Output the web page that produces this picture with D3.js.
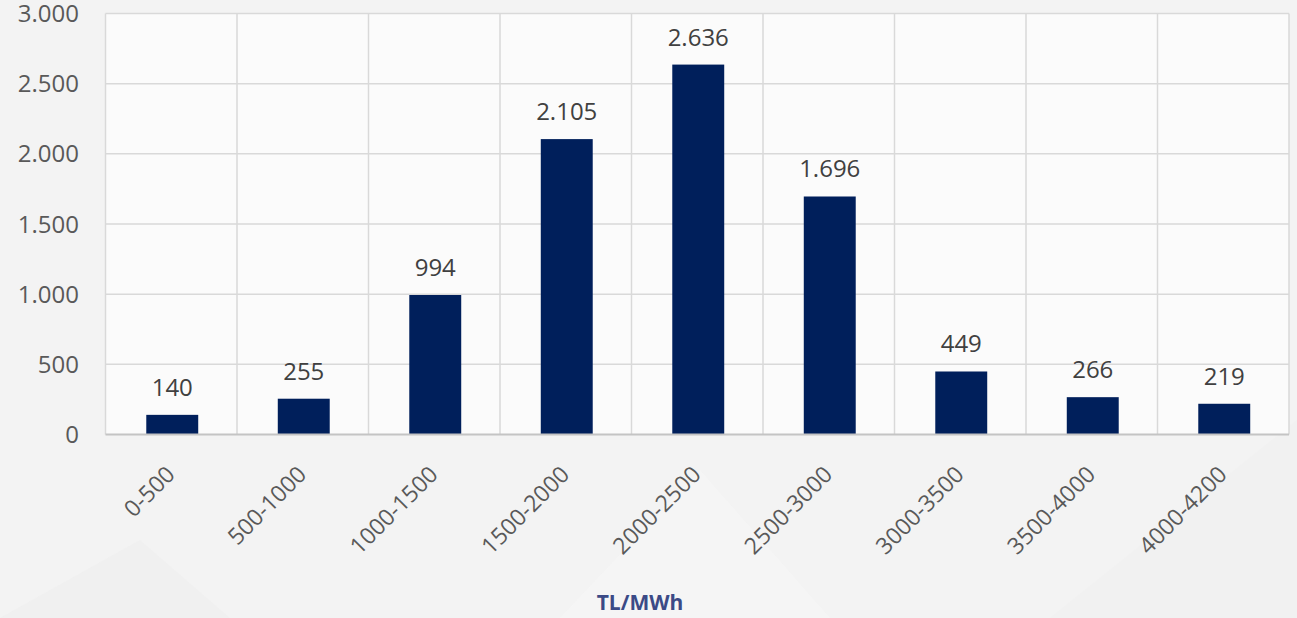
<!DOCTYPE html>
<html>
<head>
<meta charset="utf-8">
<script src="https://cdn.jsdelivr.net/npm/d3@7"></script>
<style>
  html, body { margin: 0; padding: 0; background: #f3f3f3; }
  svg { display: block; }
</style>
</head>
<body>
<svg id="chart" width="1297" height="618"></svg>
<script>
// data
let categories = ["0-500", "500-1000", "1000-1500", "1500-2000", "2000-2500",
                  "2500-3000", "3000-3500", "3500-4000", "4000-4200"];
let values = [140, 255, 994, 2105, 2636, 1696, 449, 266, 219];
let yTicks = [0, 500, 1000, 1500, 2000, 2500, 3000];
let xTitle = "TL/MWh";

let width = 1297, height = 618;
let plotLeft = 105.5, plotRight = 1289, plotTop = 13.5, plotBottom = 434.5;

let bar_color = "#001f5b";
let grid_color = "#d9d9d9";
let text_color = "#595959";

let svg = d3.select("#chart");
let fmt = d3.formatLocale({decimal: ",", thousands: ".", grouping: [3], currency: ["", ""]}).format(",d");

let x = d3.scaleBand().domain(categories).range([plotLeft, plotRight]).paddingInner(0).paddingOuter(0);
let y = d3.scaleLinear().domain([0, 3000]).range([plotBottom, plotTop]);

// faint background shapes
let bg = svg.append("g");
bg.append("rect").attr("width", width).attr("height", height).attr("fill", "#f3f3f3");
bg.append("polygon").attr("points", "0,618 230,618 140,540").attr("fill", "#eeeeee").attr("opacity", 0.5);
bg.append("polygon").attr("points", "560,618 830,618 700,470").attr("fill", "#f7f7f7").attr("opacity", 0.6);
bg.append("polygon").attr("points", "1050,618 1297,618 1297,420").attr("fill", "#efefef").attr("opacity", 0.5);

// plot area
svg.append("rect")
    .attr("x", plotLeft).attr("y", plotTop)
    .attr("width", plotRight - plotLeft).attr("height", plotBottom - plotTop)
    .attr("fill", "#fbfbfb");

// horizontal gridlines
svg.append("g")
    .selectAll("line")
    .data(yTicks.filter(d => d > 0))
    .join("line")
    .attr("x1", plotLeft).attr("x2", plotRight)
    .attr("y1", d => y(d)).attr("y2", d => y(d))
    .attr("stroke", grid_color)
    .attr("stroke-width", 1.5);

// vertical gridlines at category boundaries
let bounds = categories.map(c => x(c)).concat([plotRight]);
svg.append("g")
    .selectAll("line")
    .data(bounds)
    .join("line")
    .attr("x1", d => d).attr("x2", d => d)
    .attr("y1", plotTop).attr("y2", plotBottom)
    .attr("stroke", grid_color)
    .attr("stroke-width", 1.5);

// bars
let barW = x.bandwidth() * 0.395;
svg.append("g")
    .selectAll("rect")
    .data(values)
    .join("rect")
    .attr("x", (d, i) => x(categories[i]) + x.bandwidth() / 2 - barW / 2 + 1)
    .attr("y", d => y(d))
    .attr("width", barW)
    .attr("height", d => plotBottom - y(d))
    .attr("fill", bar_color);

// x axis baseline
svg.append("line")
    .attr("x1", plotLeft).attr("x2", plotRight)
    .attr("y1", plotBottom).attr("y2", plotBottom)
    .attr("stroke", "#c4c4c4")
    .attr("stroke-width", 2);

// value labels
svg.append("g")
    .selectAll("text")
    .data(values)
    .join("text")
    .attr("x", (d, i) => x(categories[i]) + x.bandwidth() / 2 + 1)
    .attr("y", d => y(d) - 19)
    .attr("text-anchor", "middle")
    .attr("font-family", "Open Sans, sans-serif")
    .attr("font-size", 24)
    .attr("fill", "#404040")
    .text(d => fmt(d));

// y axis labels
svg.append("g")
    .selectAll("text")
    .data(yTicks)
    .join("text")
    .attr("x", 79)
    .attr("y", d => y(d) + 8.5)
    .attr("text-anchor", "end")
    .attr("font-family", "Open Sans, sans-serif")
    .attr("font-size", 24)
    .attr("fill", text_color)
    .text(d => fmt(d));

// x axis labels, rotated
svg.append("g")
    .selectAll("text")
    .data(categories)
    .join("text")
    .attr("transform", d => "translate(" + (x(d) + x.bandwidth() / 2 + 5) + "," + 476 + ") rotate(-45)")
    .attr("text-anchor", "end")
    .attr("font-family", "Open Sans, sans-serif")
    .attr("font-size", 23)
    .attr("fill", text_color)
    .text(d => d);

// axis title
svg.append("text")
    .attr("x", 640)
    .attr("y", 610)
    .attr("text-anchor", "middle")
    .attr("font-family", "Open Sans, sans-serif")
    .attr("font-weight", "bold")
    .attr("font-size", 21)
    .attr("fill", "#3b4a86")
    .text(xTitle);
</script>
</body>
</html>
